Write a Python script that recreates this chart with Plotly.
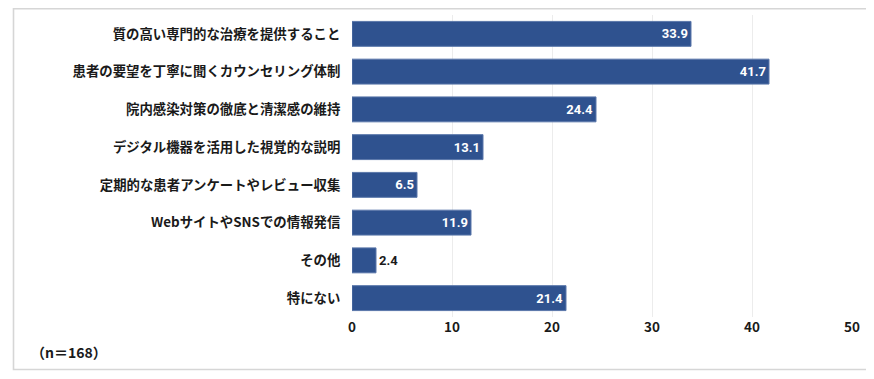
import plotly.graph_objects as go

categories = [
    "質の高い専門的な治療を提供すること",
    "患者の要望を丁寧に聞くカウンセリング体制",
    "院内感染対策の徹底と清潔感の維持",
    "デジタル機器を活用した視覚的な説明",
    "定期的な患者アンケートやレビュー収集",
    "WebサイトやSNSでの情報発信",
    "その他",
    "特にない",
]
values = [33.9, 41.7, 24.4, 13.1, 6.5, 11.9, 2.4, 21.4]
tick_vals = [0, 10, 20, 30, 40, 50]
note = "（n＝168）"

# page has an 8px body margin, so the figure is drawn 8px smaller and offset
OFF = 8
W, H = 874 - OFF, 379 - OFF
ML, MR, MT, MB = 352 - OFF, 22, 15 - OFF, 62
PW = W - ML - MR
PH = H - MT - MB

BAR = "#2F528F"
FONT = "Noto Sans CJK JP"

inside = [v >= 5 for v in values]
text_pos = ["inside" if f else "outside" for f in inside]

fig = go.Figure(go.Bar(
    x=values, y=categories, orientation="h",
    marker=dict(color=BAR, line=dict(color="#5a77aa", width=1)),
    text=[f"{v:.1f}" for v in values],
    textposition=text_pos,
    insidetextanchor="end",
    outsidetextfont=dict(family="Roboto", size=13, color="#1a1a1a", weight="bold"),
    insidetextfont=dict(family="Roboto", size=13, color="white", weight="bold"),
    cliponaxis=False,
    width=0.66,
))

def px_x(p):
    return (p - OFF - ML) / PW

def px_y(p):
    return (MT + PH - (p - OFF)) / PH

fig.update_layout(
    width=W, height=H,
    margin=dict(l=ML, r=MR, t=MT, b=MB),
    paper_bgcolor="white", plot_bgcolor="white",
    showlegend=False,
    font=dict(family=FONT, color="#1a1a1a"),
    xaxis=dict(
        range=[0, 50], tickvals=tick_vals, showgrid=True, gridcolor="#ececec",
        gridwidth=1, zeroline=False, showline=False, ticks="",
        tickfont=dict(family=FONT, size=13.5, color="#1a1a1a", weight="bold"),
        fixedrange=True,
    ),
    yaxis=dict(
        categoryorder="array", categoryarray=categories[::-1],
        showgrid=False, zeroline=False, showline=False,
        ticks="outside", ticklen=8, tickcolor="rgba(0,0,0,0)",
        tickfont=dict(family=FONT, size=13.4, color="#1a1a1a", weight="bold"),
        fixedrange=True,
    ),
    shapes=[dict(
        type="rect", xref="paper", yref="paper",
        x0=px_x(13.5), x1=px_x(867.5), y0=px_y(369.5), y1=px_y(8.8),
        line=dict(color="#d6d6d6", width=1.6), fillcolor="rgba(0,0,0,0)",
        layer="below",
    )],
    annotations=[dict(
        text=note, xref="paper", yref="paper",
        x=px_x(29), y=px_y(352), xanchor="left", yanchor="middle",
        showarrow=False, font=dict(family=FONT, size=14, color="#1a1a1a", weight="bold"),
    )],
)

fig.write_html("out.html")
